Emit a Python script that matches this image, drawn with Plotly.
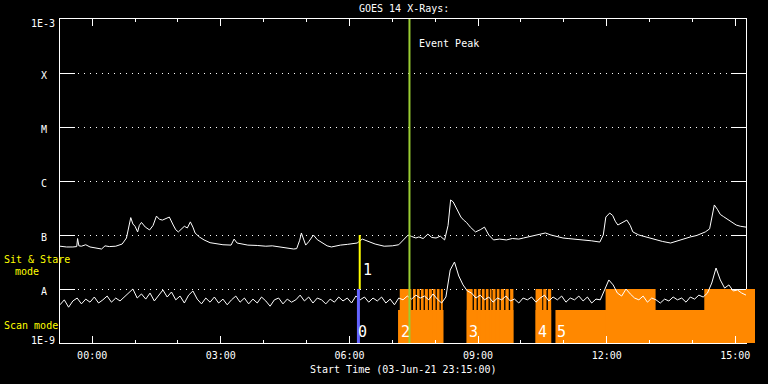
import plotly.graph_objects as go

# ---------------- data ----------------
# time in hours relative to 04-Jun-21 00:00 (start 03-Jun-21 23:15)
x_range = [-0.75, 15.25]
tick_hours = [0, 3, 6, 9, 12, 15]
tick_labels = ["00:00", "03:00", "06:00", "09:00", "12:00", "15:00"]
minor_hours = [1, 2, 4, 5, 7, 8, 10, 11, 13, 14]

level_vals = [1e-8, 1e-7, 1e-6, 1e-5, 1e-4]
level_labels = ["A", "B", "C", "M", "X"]

# long channel (1-8 A)
hi_t = [-0.75, -0.60, -0.45, -0.36, -0.34, -0.31, -0.25, -0.15, -0.05, 0.10,
        0.22, 0.30, 0.40, 0.55, 0.70, 0.80, 0.90, 0.95, 1.00, 1.06,
        1.10, 1.15, 1.24, 1.34, 1.42, 1.50, 1.57, 1.64, 1.72, 1.80,
        1.89, 1.95, 2.01, 2.08, 2.15, 2.22, 2.29, 2.35, 2.40, 2.50,
        2.61, 2.75, 2.91, 3.05, 3.24, 3.31, 3.38, 3.50, 3.63, 3.85,
        4.05, 4.20, 4.35, 4.55, 4.70, 4.77, 4.84, 4.88, 4.94, 4.98,
        5.05, 5.16, 5.25, 5.37, 5.48, 5.58, 5.70, 5.79, 5.95, 6.10,
        6.18, 6.30, 6.40, 6.48, 6.60, 6.81, 7.00, 7.15, 7.25, 7.37,
        7.45, 7.55, 7.62, 7.72, 7.83, 7.92, 8.02, 8.12, 8.22, 8.30,
        8.36, 8.42, 8.48, 8.55, 8.60, 8.66, 8.73, 8.82, 8.94, 9.05,
        9.15, 9.25, 9.36, 9.50, 9.66, 9.80, 9.95, 10.06, 10.20, 10.35,
        10.47, 10.57, 10.70, 10.85, 10.98, 11.10, 11.25, 11.40, 11.49, 11.65,
        11.84, 11.92, 11.98, 12.07, 12.14, 12.20, 12.26, 12.36, 12.47, 12.55,
        12.61, 12.75, 12.91, 13.10, 13.30, 13.49, 13.65, 13.80, 13.95, 14.10,
        14.30, 14.40, 14.46, 14.51, 14.58, 14.65, 14.72, 14.81, 14.90, 15.02,
        15.12, 15.25]
hi_flux = [6.2e-8, 6.0e-8, 6.0e-8, 6.1e-8, 8.6e-8, 6.3e-8, 6.2e-8, 6.6e-8, 6.0e-8, 5.8e-8,
           5.5e-8, 6.3e-8, 6.1e-8, 6.2e-8, 6.8e-8, 8.8e-8, 2.1e-7, 1.6e-7, 1.45e-7, 1.14e-7,
           1.5e-7, 1.71e-7, 1.4e-7, 1.24e-7, 1.5e-7, 2.24e-7, 1.95e-7, 1.89e-7, 2.0e-7, 2.15e-7,
           1.53e-7, 1.25e-7, 1.14e-7, 1.3e-7, 1.45e-7, 1.35e-7, 1.75e-7, 1.4e-7, 1.09e-7, 9.2e-8,
           8.1e-8, 7.2e-8, 6.8e-8, 6.6e-8, 6.5e-8, 8.4e-8, 7.1e-8, 6.8e-8, 6.5e-8, 6.4e-8,
           6.2e-8, 6.3e-8, 6.0e-8, 5.8e-8, 5.5e-8, 5.6e-8, 8.0e-8, 1.09e-7, 7.5e-8, 6.5e-8,
           7.5e-8, 1.0e-7, 8.2e-8, 7.1e-8, 6.3e-8, 6.0e-8, 6.3e-8, 6.5e-8, 6.7e-8, 7.0e-8,
           7.1e-8, 8.4e-8, 7.8e-8, 7.4e-8, 6.8e-8, 6.2e-8, 6.3e-8, 6.6e-8, 8.0e-8, 1.0e-7,
           9.4e-8, 8.8e-8, 9.2e-8, 8.6e-8, 1.04e-7, 9.0e-8, 8.8e-8, 9.5e-8, 8.1e-8, 1.5e-7,
           4.46e-7, 4.1e-7, 3.3e-7, 2.5e-7, 2.15e-7, 1.9e-7, 1.71e-7, 1.4e-7, 1.14e-7, 1.25e-7,
           1.4e-7, 1.0e-7, 8.1e-8, 8.4e-8, 8.1e-8, 8.6e-8, 8.4e-8, 8.8e-8, 9.3e-8, 9.8e-8,
           1.05e-7, 1.09e-7, 1.0e-7, 9.3e-8, 8.8e-8, 8.6e-8, 8.4e-8, 8.2e-8, 8.1e-8, 7.8e-8,
           7.4e-8, 1.0e-7, 2.15e-7, 2.55e-7, 2.3e-7, 1.8e-7, 1.53e-7, 1.7e-7, 1.89e-7, 1.5e-7,
           1.14e-7, 1.0e-7, 9.2e-8, 8.4e-8, 7.6e-8, 7.1e-8, 7.8e-8, 8.5e-8, 9.2e-8, 9.8e-8,
           1.14e-7, 1.3e-7, 2.5e-7, 3.6e-7, 3.0e-7, 2.4e-7, 2.2e-7, 1.98e-7, 1.75e-7, 1.53e-7,
           1.45e-7, 1.4e-7]

# short channel (0.5-4 A)
lo_t = [-0.75, -0.65, -0.55, -0.45, -0.35, -0.25, -0.15, -0.05, 0.05, 0.15,
        0.25, 0.35, 0.45, 0.55, 0.65, 0.75, 0.85, 0.95, 1.05, 1.15,
        1.25, 1.35, 1.45, 1.55, 1.65, 1.75, 1.85, 1.95, 2.05, 2.15,
        2.25, 2.35, 2.45, 2.55, 2.65, 2.75, 2.85, 2.95, 3.05, 3.15,
        3.25, 3.35, 3.45, 3.55, 3.65, 3.75, 3.85, 3.95, 4.05, 4.15,
        4.25, 4.35, 4.45, 4.55, 4.65, 4.75, 4.85, 4.95, 5.05, 5.15,
        5.25, 5.35, 5.45, 5.55, 5.65, 5.75, 5.85, 5.95, 6.05, 6.15,
        6.25, 6.35, 6.45, 6.55, 6.65, 6.75, 6.85, 6.95, 7.05, 7.15,
        7.25, 7.35, 7.45, 7.55, 7.65, 7.75, 7.85, 7.95, 8.05, 8.15,
        8.25, 8.35, 8.45, 8.55, 8.65, 8.75, 8.85, 8.95, 9.05, 9.15,
        9.25, 9.35, 9.45, 9.55, 9.65, 9.75, 9.85, 9.95, 10.05, 10.15,
        10.25, 10.35, 10.45, 10.55, 10.65, 10.75, 10.85, 10.95, 11.05, 11.15,
        11.25, 11.35, 11.45, 11.55, 11.65, 11.75, 11.85, 11.95, 12.05, 12.15,
        12.25, 12.35, 12.45, 12.55, 12.65, 12.75, 12.85, 12.95, 13.05, 13.15,
        13.25, 13.35, 13.45, 13.55, 13.65, 13.75, 13.85, 13.95, 14.05, 14.15,
        14.25, 14.35, 14.45, 14.55, 14.65, 14.75, 14.85, 14.95, 15.05, 15.15,
        15.25]
lo_flux = [5.1e-9, 6.3e-9, 4.6e-9, 6.0e-9, 6.8e-9, 5.3e-9, 6.5e-9, 5.7e-9, 7.1e-9, 5.5e-9,
           6.3e-9, 7.4e-9, 5.7e-9, 6.8e-9, 6.0e-9, 7.1e-9, 8.4e-9, 1.0e-8, 6.8e-9, 8.1e-9,
           6.5e-9, 8.4e-9, 6.0e-9, 7.7e-9, 9.6e-9, 7.1e-9, 8.8e-9, 6.3e-9, 7.4e-9, 5.5e-9,
           7.7e-9, 9.2e-9, 6.5e-9, 5.3e-9, 6.8e-9, 5.7e-9, 7.1e-9, 5.5e-9, 6.5e-9, 5.1e-9,
           6.3e-9, 7.4e-9, 5.7e-9, 6.8e-9, 5.3e-9, 6.5e-9, 5.5e-9, 7.1e-9, 6.0e-9, 4.8e-9,
           6.3e-9, 6.8e-9, 5.3e-9, 6.5e-9, 5.7e-9, 6.3e-9, 7.7e-9, 6.0e-9, 7.1e-9, 5.5e-9,
           6.8e-9, 6.3e-9, 5.3e-9, 6.5e-9, 5.7e-9, 7.1e-9, 6.0e-9, 6.8e-9, 5.5e-9, 7.4e-9,
           6.3e-9, 7.1e-9, 5.7e-9, 6.8e-9, 6.0e-9, 7.1e-9, 5.5e-9, 6.5e-9, 5.1e-9, 6.8e-9,
           6.3e-9, 7.4e-9, 6.5e-9, 7.7e-9, 6.8e-9, 7.4e-9, 6.3e-9, 8.1e-9, 6.5e-9, 5.5e-9,
           7.1e-9, 2.25e-8, 3.16e-8, 1.74e-8, 1.19e-8, 9.2e-9, 8.4e-9, 6.8e-9, 7.7e-9, 6.3e-9,
           7.1e-9, 5.7e-9, 6.8e-9, 6.3e-9, 7.4e-9, 6.0e-9, 6.5e-9, 5.5e-9, 6.8e-9, 6.3e-9,
           7.1e-9, 5.7e-9, 6.8e-9, 7.7e-9, 6.0e-9, 7.1e-9, 6.3e-9, 7.4e-9, 5.7e-9, 6.8e-9,
           6.3e-9, 7.4e-9, 6.0e-9, 7.1e-9, 5.5e-9, 6.5e-9, 6.3e-9, 9.6e-9, 1.47e-8, 1.19e-8,
           8.4e-9, 7.4e-9, 1.0e-8, 8.1e-9, 6.8e-9, 6.3e-9, 7.4e-9, 5.7e-9, 6.8e-9, 6.3e-9,
           5.5e-9, 6.5e-9, 6.0e-9, 7.1e-9, 6.3e-9, 6.8e-9, 5.7e-9, 7.1e-9, 6.5e-9, 7.7e-9,
           7.1e-9, 8.4e-9, 1.29e-8, 2.45e-8, 1.47e-8, 1.04e-8, 1.19e-8, 9.2e-9, 9.6e-9, 8.4e-9,
           7.7e-9]

# observing-mode intervals (hours): scan-mode band and sit & stare band
band_bottom = 1e-9
scan_top = 4.1e-9
stare_top = 1e-8
scan_start = [7.134, 8.734, 10.341, 10.805]
scan_end = [8.194, 9.824, 10.705, 15.459]
stare_start = [7.174, 7.482, 7.575, 7.667, 7.760, 7.853, 7.946, 8.039, 8.131,
               8.734, 8.903, 8.996, 9.089, 9.182, 9.275, 9.337, 9.437, 9.530, 9.639, 9.748,
               10.341, 10.520, 10.629,
               11.974, 14.276]
stare_end = [7.443, 7.545, 7.637, 7.730, 7.830, 7.923, 8.008, 8.101, 8.178,
             8.873, 8.966, 9.059, 9.152, 9.244, 9.314, 9.407, 9.499, 9.608, 9.715, 9.824,
             10.497, 10.596, 10.705,
             13.140, 15.459]

# markers
sit_time = 6.24
scan_time = 6.21
peak_time = 7.40
mode_labels = ["0", "1", "2", "3", "4", "5"]
mode_label_t = [6.16, 6.26, 7.15, 8.734, 10.341, 10.80]

# ---------------- figure ----------------
FONT = "DejaVu Sans Mono"
ORANGE = "#ff8800"

def polys(starts, ends, bottom, top):
    xs, ys = [], []
    for a, b in zip(starts, ends):
        xs += [a, b, b, a, a, None]
        ys += [bottom, bottom, top, top, bottom, None]
    return xs, ys

sx, sy = polys(scan_start, scan_end, band_bottom, scan_top)
tx, ty = polys(stare_start, stare_end, band_bottom, stare_top)

fig = go.Figure()
for xa, ya in [("x", "y"), ("x2", "y2")]:
    for px, py in [(sx, sy), (tx, ty)]:
        fig.add_trace(go.Scatter(x=px, y=py, mode="lines", fill="toself",
                                 fillcolor=ORANGE, line=dict(width=0, color=ORANGE),
                                 xaxis=xa, yaxis=ya, hoverinfo="skip", showlegend=False))

fig.add_trace(go.Scatter(x=hi_t, y=hi_flux, mode="lines",
                         line=dict(color="white", width=1), showlegend=False))
fig.add_trace(go.Scatter(x=lo_t, y=lo_flux, mode="lines",
                         line=dict(color="white", width=1), showlegend=False))
fig.add_trace(go.Scatter(x=[scan_time, scan_time], y=[1e-9, 1e-8], mode="lines",
                         line=dict(color="#6464ff", width=3), showlegend=False))
fig.add_trace(go.Scatter(x=[sit_time, sit_time], y=[1e-8, 1e-7], mode="lines",
                         line=dict(color="#ffff00", width=2), showlegend=False))
fig.add_trace(go.Scatter(x=[peak_time, peak_time], y=[1e-9, 1e-3], mode="lines",
                         line=dict(color="#9acd32", width=2), showlegend=False))

L, R, T, B = 60, 9, 19, 41
PW = 768 - L - R
PH = 384 - T - B
main_frac = 690 / PW

def px_x(X):
    return (X - L) / PW

def px_y(Y):
    return (343 - Y) / PH

ann = []
tf = dict(family=FONT, size=10, color="white")
yf = dict(family=FONT, size=10, color="#ffff00")
ann.append(dict(text="GOES 14 X-Rays:", x=px_x(406), y=px_y(8), xref="paper", yref="paper",
                xanchor="center", yanchor="middle", showarrow=False, font=tf))
ann.append(dict(text="Start Time (03-Jun-21 23:15:00)", x=px_x(405), y=px_y(369),
                xref="paper", yref="paper", xanchor="center", yanchor="middle",
                showarrow=False, font=tf))
ann.append(dict(text="Event Peak", x=peak_time, xshift=8, y=px_y(43), xref="x", yref="paper",
                xanchor="left", yanchor="middle", showarrow=False, font=tf))
for lab, Y in [("1E-3", 24), ("1E-9", 340)]:
    ann.append(dict(text=lab, x=px_x(57), y=px_y(Y), xref="paper", yref="paper",
                    xanchor="right", yanchor="middle", showarrow=False, font=tf))
for lab, Y in zip(level_labels, [291, 237, 183, 129, 75]):
    ann.append(dict(text=lab, x=px_x(44), y=px_y(Y), xref="paper", yref="paper",
                    xanchor="center", yanchor="middle", showarrow=False, font=tf))
ann.append(dict(text="Sit & Stare", x=px_x(1.7), y=px_y(259.5), xref="paper", yref="paper",
                xanchor="left", yanchor="middle", showarrow=False, font=yf))
ann.append(dict(text="mode", x=px_x(12.7), y=px_y(271.5), xref="paper", yref="paper",
                xanchor="left", yanchor="middle", showarrow=False, font=yf))
ann.append(dict(text="Scan mode", x=px_x(1.7), y=px_y(325), xref="paper", yref="paper",
                xanchor="left", yanchor="middle", showarrow=False, font=yf))
for lab, t in zip(mode_labels, mode_label_t):
    Y = 270 if lab == "1" else 332
    ann.append(dict(text=lab, x=t, y=px_y(Y), xref="x", yref="paper", xanchor="left",
                    yanchor="middle", showarrow=False,
                    font=dict(family=FONT, size=15, color="white")))

fig.update_layout(
    width=768, height=384, autosize=False,
    margin=dict(l=L, r=R, t=T, b=B, pad=0),
    paper_bgcolor="black", plot_bgcolor="black",
    showlegend=False,
    annotations=ann,
    xaxis=dict(domain=[0, main_frac], range=x_range, anchor="y",
               showline=True, linecolor="white", linewidth=1, mirror="ticks",
               ticks="inside", ticklen=7, tickwidth=1, tickcolor="white",
               tickmode="array", tickvals=tick_hours, ticktext=tick_labels,
               tickfont=tf, showgrid=False, zeroline=False, ticklabelstandoff=3,
               minor=dict(tickmode="array", tickvals=minor_hours, ticks="inside",
                          ticklen=3, tickwidth=1, tickcolor="white", showgrid=False)),
    yaxis=dict(type="log", range=[-9, -3], domain=[0, 1], anchor="x",
               showline=True, linecolor="white", linewidth=1, mirror="ticks",
               ticks="inside", ticklen=15, tickwidth=1, tickcolor="white",
               tickmode="array", tickvals=level_vals, showticklabels=False,
               showgrid=True, gridcolor="white", gridwidth=1, griddash="1px,5px",
               zeroline=False),
    xaxis2=dict(domain=[main_frac, 1], range=[x_range[1], scan_end[-1]], anchor="y2",
                visible=False, showgrid=False, zeroline=False),
    yaxis2=dict(type="log", range=[-9, -3], domain=[0, 1], anchor="x2",
                visible=False, showgrid=False, zeroline=False),
)

fig.write_html("out.html")
